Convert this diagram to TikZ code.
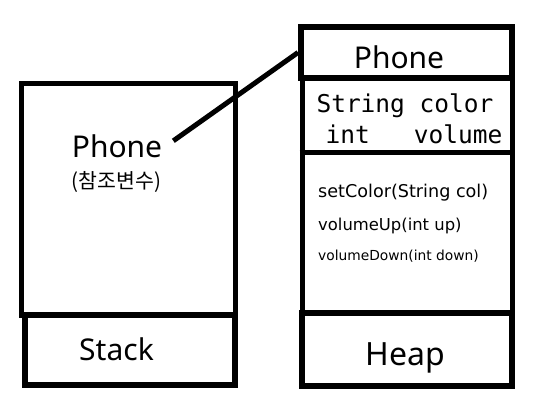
\documentclass[tikz,border=0pt]{standalone}
\usepackage{fontspec}
\setmainfont{Noto Sans}
\setmonofont{DejaVu Sans Mono}
\newfontfamily\korfont{Noto Sans CJK KR}
\newfontfamily\methodfont{DejaVu Sans}
\newcommand\memnamestyle{\fontsize{30}{30}\selectfont}
\newcommand\memvarstyle{\korfont\fontsize{20.5}{20.5}\selectfont}
\newcommand\memfieldstyle{\ttfamily\fontsize{24.5}{24.5}\selectfont}
\newcommand\memmethodstyle[1]{\methodfont\fontsize{#1}{#1}\selectfont}

\begin{document}
\begin{tikzpicture}[x=1pt, y=-1pt]
  \useasboundingbox (0,0) rectangle (538,402);
  \tikzset{
    membox/.style={draw, inner sep=0pt, line width=#1},
    membox/.default=5pt,
    memtext/.style={anchor=base, inner sep=0pt},
    memleft/.style={anchor=base west, inner sep=0pt},
    refline/.style={line width=5pt},
  }
  % stack side
  \node[membox, minimum width=214pt, minimum height=232pt] (stackframe) at (128,199) {};
  \node[membox=6pt, minimum width=210.5pt, minimum height=70pt] (stackbase) at (129.75,350) {};
  \node[memtext, inner xsep=11pt] (phonevar) at (117,157) {\memnamestyle Phone};
  \node[memtext] (phonekind) at (116.5,188) {\memvarstyle (참조변수)};
  \node[memtext] (stacklabel) at (116.5,360) {\memnamestyle Stack};
  % heap side
  \node[membox=6pt, minimum width=210.5pt, minimum height=51pt] (header) at (406.25,52.5) {};
  \node[membox, minimum width=210pt, minimum height=235pt] (classbody) at (407,195.5) {};
  \draw[line width=5pt] (classbody.west |- 0,152.5) coordinate (divleft) -- (classbody.east |- divleft);
  \node[membox=6pt, minimum width=210pt, minimum height=72.5pt] (heapbase) at (406.5,349.25) {};
  \node[memtext] (classname) at (399,68) {\memnamestyle Phone};
  \node[memtext] (fieldcolor) at (405,112) {\memfieldstyle String color};
  \node[memtext] (fieldvolume) at (414,143) {\memfieldstyle int~~~volume};
  \node[memleft] (setcolor) at (318,197) {\memmethodstyle{17.6}setColor(String col)};
  \node[memleft] (volumeup) at (318,230) {\memmethodstyle{16.4}volumeUp(int up)};
  \node[memleft] (volumedown) at (318,260) {\memmethodstyle{13.8}volumeDown(int down)};
  \node[memtext] (heaplabel) at (405,365) {\fontsize{32}{32}\selectfont Heap};
  % reference
  \draw[refline] (phonevar.5) -- (header.west);
\end{tikzpicture}
\end{document}
